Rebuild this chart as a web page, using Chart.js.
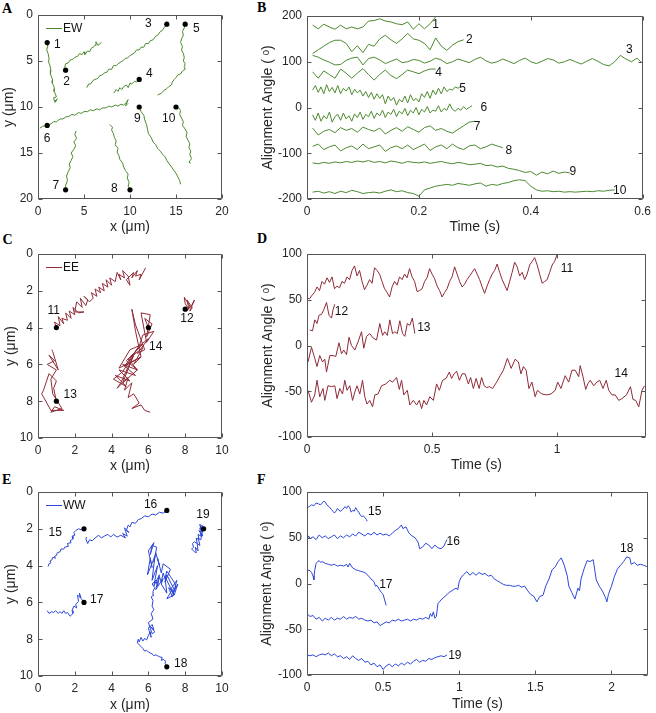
<!DOCTYPE html>
<html><head><meta charset="utf-8">
<script src="https://cdn.jsdelivr.net/npm/chart.js@4.4.0/dist/chart.umd.min.js"></script>
<style>
html,body{margin:0;padding:0;background:#fff;}
body{width:656px;height:713px;position:relative;overflow:hidden;}
canvas{position:absolute;}
.lab{position:absolute;font:bold 14px 'Liberation Serif','Times New Roman',serif;color:#000;line-height:14px;}
</style></head><body>
<div class="lab" style="left:2px;top:1.5px">A</div>
<div class="lab" style="left:257px;top:1px">B</div>
<div class="lab" style="left:2.5px;top:232.5px">C</div>
<div class="lab" style="left:257px;top:231.5px">D</div>
<div class="lab" style="left:2px;top:472.5px">E</div>
<div class="lab" style="left:257px;top:472.5px">F</div>
<canvas id="cA"></canvas><canvas id="cB"></canvas>
<canvas id="cC"></canvas><canvas id="cD"></canvas>
<canvas id="cE"></canvas><canvas id="cF"></canvas>
<script>
// ---------------- Panel A : EW trajectories (x, y in µm) ----------------
const a1x=[1,1.05,0.95,1.1,1.2,1.15,1.3,1.4,1.35,1.5,1.6,1.55,1.7,1.8,1.75,1.9,2.0,1.7,1.8,2.1,1.85,2.0];
const a1y=[3,3.4,3.8,4.2,4.7,5.1,5.5,6,6.4,6.8,7.1,7.4,7.7,8,8.3,8.6,8.9,9.0,9.4,9.1,9.5,9.3];
const a2x=[2.9,3.0,3.3,3.5,3.8,4.0,4.3,4.5,4.8,5.0,5.1,5.4,5.6,5.8,6.0,6.2,6.3,6.5,6.9];
const a2y=[5.7,5.3,5.2,4.9,4.8,4.6,4.5,4.2,4.3,4.0,4.3,3.9,4.0,3.6,3.5,3.3,2.9,3.3,3.0];
const a3x=[14,13.7,13.5,13.3,13.0,12.8,12.5,12.2,12.0,11.7,11.5,11.2,11.0,10.7,10.5,10.2,10.0,9.7,9.5,9.2,9.0,8.7,8.5,8.2,8.0,7.7,7.5,7.2,7.0,6.7,6.5,6.2,6.0,5.7,5.5,5.3];
const a3y=[1,1.4,1.7,1.8,2.2,2.3,2.7,2.8,3.1,3.1,3.5,3.5,3.8,3.8,4.1,4.3,4.4,4.7,4.7,5.0,5.1,5.3,5.5,5.5,5.9,5.9,6.2,6.3,6.5,6.6,6.9,7.0,7.1,7.5,7.5,7.9];
const a4x=[11,10.7,10.5,10.2,10.0,9.8,9.6,9.3,9.1,8.9,8.7,8.5,8.3,8.2];
const a4y=[7.0,7.3,7.2,7.5,7.4,7.9,7.6,7.8,8.1,7.9,8.3,8.1,8.4,8.5];
const a5x=[16,15.9,15.7,15.8,15.6,15.5,15.7,15.6,15.8,15.9,15.8,16.0,15.9,16.0,15.7,15.5,15.2,15.0,14.8,14.6,14.5,14.2,14.0,13.7,13.4,13.0];
const a5y=[1,1.4,1.8,2.2,2.6,3.0,3.4,3.8,4.2,4.6,5.0,5.3,5.6,5.9,6.1,6.4,6.5,6.8,7.0,7.3,7.6,7.8,8.0,8.2,8.5,8.7];
const a6x=[0.2,0.5,1.0,1.3,1.7,2.0,2.4,2.7,3.0,3.4,3.7,4.0,4.4,4.7,5.0,5.4,5.7,6.0,6.4,6.7,7.0,7.4,7.7,8.0,8.4,8.7,9.0,9.3,9.6,9.8,9.5,9.8];
const a6y=[12.3,12.1,12.0,11.9,11.6,11.6,11.3,11.3,11.1,11.0,10.8,10.9,10.6,10.7,10.5,10.5,10.3,10.4,10.2,10.3,10.1,10.1,9.9,10.0,9.8,9.9,9.7,9.8,9.5,9.2,9.9,9.6];
const a7x=[3,3.0,3.2,3.1,3.3,3.5,3.4,3.6,3.8,3.6,3.9,4.1,3.9,4.2,4.0,4.15];
const a7y=[19,18.5,18.0,17.5,17.0,16.6,16.2,15.8,15.4,15.0,14.6,14.2,13.8,13.4,13.0,12.6];
const a8x=[10,9.8,9.9,9.7,9.8,9.5,9.3,9.2,8.9,8.8,8.6,8.7,8.4,8.5,8.3,8.2,8.0,8.1,7.8];
const a8y=[19,18.6,18.2,17.7,17.3,16.9,16.5,16.1,15.7,15.3,14.9,14.5,14.1,13.7,13.3,12.9,12.5,12.2,11.9];
const a9x=[11,11.2,11.5,11.6,11.8,11.9,12.0,12.3,12.5,12.8,13.0,13.3,13.5,13.8,14.0,14.2,14.5,14.7,15.0,15.2,15.4,15.5];
const a9y=[10,10.5,10.9,11.4,11.9,12.4,12.9,13.3,13.8,14.1,14.5,14.8,15.1,15.4,15.8,16.1,16.5,16.8,17.2,17.6,18.0,18.4];
const a10x=[15,15.3,15.5,15.4,15.6,15.8,15.7,16.0,16.2,16.1,16.3,16.5,16.4,16.6,16.5,16.7,16.4,16.6];
const a10y=[10,10.1,10.4,10.8,11.2,11.6,12.0,12.4,12.8,13.2,13.6,14.0,14.4,14.8,15.2,15.6,16.0,16.1];
const aStarts=[[1,3],[3,6],[14,1],[11,7],[16,1],[1,12],[3,19],[10,19],[11,10],[15,10]];
const aTags=[["1",2.1,3.2],["2",3.1,7.3],["3",12.0,0.95],["4",12.1,6.4],["5",17.2,1.5],["6",1.0,13.4],["7",1.95,18.6],["8",8.3,18.9],["9",10.8,11.3],["10",14.2,11.3]];

// ---------------- Panel B : EW alignment angle vs time ----------------
const bStart=0.01;
const bStep=[0.01,0.01,0.01,0.01,0.005,0.005,0.01,0.01,0.01,0.01];
const b1=[180,172,182,176,171,180,172,176,172,176,189,190,194,189,187,183,181,187,171,183,172,183,198];
const b2=[118,126,134,142,147,147,140,122,135,120,138,134,150,158,148,140,150,162,150,147,140,126,152,134,125,136,144,148];
const b3=[114,110,104,99,93,94,103,108,110,93,107,110,104,96,101,106,98,100,105,103,97,101,108,104,96,100,106,102,98,105,110,102,97,100,106,101,96,103,108,100,96,101,107,104,97,100,105,100,95,101,107,101,94,91,100,114,106,100,108,96];
const b4=[78,64,80,72,64,84,75,64,75,85,72,60,72,82,70,63,72,82,78,74,80,84,84];
const b5=[38,48,33,45,30,50,35,44,32,48,30,42,36,45,28,40,32,38,25,35,22,33,18,30,20,28,8,25,15,22,5,18,12,25,10,28,15,20,12,30,22,35,20,38,28,42,30,45,35,40,38,45,42,47];
const b6=[-16,-28,-12,-30,-18,-25,-10,-32,-20,-15,-28,-12,-25,-18,-30,-14,-22,-10,-26,-15,-20,-8,-24,-12,-18,-6,-22,-10,-15,-4,-20,-8,-14,-2,-18,-6,-12,0,-16,-4,-10,2,-12,-6,-8,4,-10,-2,-6,8,-4,-8,-2,-6,2,-4,0,4];
const b7=[-45,-60,-52,-48,-55,-44,-50,-46,-54,-43,-48,-52,-45,-58,-50,-44,-52,-42,-48,-54,-44,-40,-50,-46,-52,-56,-48,-40,-32,-30];
const b8=[-85,-80,-92,-86,-82,-95,-88,-84,-92,-80,-90,-86,-82,-96,-88,-84,-90,-82,-92,-86,-80,-94,-86,-82,-90,-80,-88,-92,-84,-82,-90,-86,-80,-84,-88];
const b9=[-121,-123,-120,-122,-119,-121,-118,-120,-117,-119,-116,-120,-118,-121,-117,-119,-122,-118,-120,-121,-119,-122,-120,-118,-121,-123,-120,-122,-125,-124,-122,-127,-126,-130,-128,-133,-135,-138,-142,-140,-148,-141,-145,-139,-144,-141,-143];
const b10=[-185,-183,-187,-184,-188,-183,-186,-181,-184,-188,-186,-185,-187,-183,-180,-184,-182,-186,-188,-194,-180,-176,-172,-170,-168,-170,-166,-168,-170,-167,-165,-172,-168,-170,-166,-164,-160,-158,-160,-172,-180,-183,-182,-184,-183,-185,-184,-185,-184,-183,-184,-182,-183,-181,-180];
const bTags=[["1",0.23,180],["2",0.29,148],["3",0.576,127],["4",0.235,76],["5",0.278,42],["6",0.316,0],["7",0.304,-42],["8",0.361,-95],["9",0.475,-140],["10",0.559,-181]];

// ---------------- Panel C : EE trajectories ----------------
const c11x=[1,0.9,1.2,1.1,1.4,1.3,1.6,1.5,1.8,1.7,2.0,1.9,2.2,2.5,2.0,2.1,2.4,2.3,2.6,2.7,2.5,2.8,3.0,2.9,3.2,3.1,3.4,3.3,3.6,3.5,3.8,3.7,4.0,3.9,4.2,4.3,4.5,4.4,4.7,4.6,4.9,5.0,4.8,5.2,5.1,5.4,5.3,5.6,5.5,5.85];
const c11y=[4,3.7,3.9,3.4,3.8,3.5,3.6,3.2,3.5,3.1,3.3,2.9,3.2,3.15,3.15,2.6,2.9,2.4,2.8,2.5,2.3,2.6,2.4,2.1,2.3,1.9,2.1,1.8,2.0,1.6,1.8,1.4,1.7,1.3,1.5,1.0,1.4,1.1,1.3,0.9,1.2,1.7,1.4,1.0,1.3,0.9,1.2,1.1,1.4,0.75];
const c12x=[8,8.1,8.3,8.1,8.2,8.0,7.95,8.3,8.5,8.25,8.4];
const c12y=[3,3.1,2.8,2.5,3.0,2.7,2.35,2.9,2.5,3.1,2.9];
const c13x=[1,0.85,1.0,0.6,0.3,0.2,0.7,1.4,0.9,0.7,1.3,0.8,0.7,1.0,0.5,0.9,0.6,1.1,0.8,0.75];
const c13y=[8,7.3,6.9,6.5,7.4,7.6,8.5,8.5,8.3,8.6,8.4,7.6,6.8,6.3,6.0,5.8,5.5,6.3,5.3,5.2];
const c14x=[6,5.8,6.2,5.9,6.1,5.6,5.9,6.3,5.7,5.5,6.0,5.4,5.8,5.3,5.1,5.3,5.6,5.2,5.7,4.9,5.4,4.6,5.3,4.4,5.0,4.2,4.8,4.1,4.6,5.5,4.7,5.6,4.4,5.0,5.7,4.8,5.4,4.6,5.2,4.5,4.3,4.9,4.7,5.1,4.9,5.2,5.5,5.1,5.6,5.8,6.1];
const c14y=[4,3.5,3.8,4.5,3.3,3.2,4.8,4.2,4.4,5.0,4.6,5.4,5.2,3.85,3.0,4.2,5.6,6.0,5.1,5.7,6.3,6.0,6.6,6.3,6.9,6.6,7.2,6.8,6.4,5.0,6.1,5.6,6.2,5.2,4.9,5.8,6.3,7.0,5.5,7.0,7.3,6.7,7.4,7.0,7.8,7.6,8.1,8.4,8.2,8.5,8.6];
const cStarts=[[1,4],[8,3],[1,8],[6,4]];
const cTags=[["11",0.85,3.07],["12",8.1,3.5],["13",1.75,7.65],["14",6.4,5.03]];

// ---------------- Panel D : EE alignment angle vs time ----------------
const d11Step=0.01;
const d11=[52,51,55,58,64,60,70,67,74,69,75,62,65,63,70,68,75,72,82,87,76,82,70,61,66,72,68,85,82,78,70,62,58,53,64,70,66,75,72,78,74,84,75,70,59,60,62,70,74,84,78,73,65,60,53,58,62,70,75,86,78,70,64,67,72,76,80,84,78,72,64,57,65,72,78,82,89,80,72,66,60,70,80,91,86,76,80,72,78,88,92,96,88,78,68,70,72,80,88,92,100];
const d12t=[0.011,0.022,0.031,0.040,0.048,0.058,0.067,0.078,0.088,0.098,0.104,0.111];
const d12v=[17,16,28,24,33,34,39,47,33,30,39,45];
const d13t=[0.004,0.018,0.031,0.040,0.051,0.062,0.071,0.078,0.091,0.104,0.115,0.128,0.138,0.147,0.158,0.168,0.178,0.191,0.204,0.218,0.227,0.238,0.251,0.265,0.278,0.291,0.302,0.311,0.321,0.331,0.342,0.351,0.361,0.371,0.382,0.391,0.401,0.411,0.421,0.431];
const d13v=[-18,-2,-14,-23,-11,-18,-15,-29,-11,-11,-12,3,-9,-5,-10,9,0,-5,4,15,-3,10,13,8,6,24,11,15,11,28,13,15,13,27,13,10,24,22,30,13];
const d14=[[0.004,-49],[0.018,-62],[0.031,-54],[0.040,-38],[0.051,-56],[0.064,-47],[0.071,-60],[0.084,-44],[0.098,-45],[0.111,-44],[0.120,-58],[0.131,-47],[0.142,-53],[0.151,-38],[0.160,-49],[0.171,-44],[0.182,-60],[0.191,-51],[0.200,-44],[0.211,-53],[0.222,-38],[0.231,-56],[0.240,-64],[0.251,-60],[0.262,-67],[0.271,-54],[0.284,-53],[0.298,-44],[0.315,-42],[0.331,-38],[0.342,-40],[0.358,-35],[0.369,-48],[0.378,-38],[0.387,-54],[0.401,-49],[0.411,-65],[0.425,-60],[0.438,-65],[0.449,-60],[0.458,-69],[0.467,-60],[0.478,-65],[0.491,-56],[0.505,-60],[0.518,-42],[0.529,-49],[0.542,-38],[0.556,-36],[0.569,-29],[0.578,-36],[0.588,-31],[0.598,-28],[0.609,-38],[0.620,-31],[0.632,-31],[0.645,-42],[0.654,-35],[0.665,-47],[0.676,-36],[0.688,-47],[0.698,-35],[0.708,-44],[0.718,-46],[0.729,-45],[0.742,-47],[0.758,-40],[0.772,-33],[0.785,-27],[0.801,-14],[0.816,-25],[0.832,-15],[0.845,-18],[0.855,-31],[0.865,-23],[0.876,-27],[0.887,-47],[0.899,-40],[0.912,-56],[0.921,-49],[0.939,-53],[0.959,-54],[0.975,-53],[0.992,-49],[1.002,-40],[1.015,-47],[1.032,-33],[1.046,-40],[1.059,-27],[1.072,-27],[1.086,-34],[1.092,-22],[1.103,-34],[1.114,-48],[1.122,-42],[1.132,-38],[1.146,-44],[1.159,-40],[1.170,-38],[1.183,-47],[1.196,-38],[1.206,-49],[1.219,-54],[1.232,-54],[1.246,-60],[1.259,-58],[1.277,-54],[1.293,-45],[1.303,-59],[1.314,-60],[1.326,-67],[1.339,-49],[1.349,-44]];
const dTags=[["11",1.039,84],["12",0.138,37],["13",0.467,19],["14",1.256,-31]];

// ---------------- Panel E : WW trajectories ----------------
const e15x=[2.5,2.35,2.2,2.05,1.95,2.0,1.85,1.9,1.75,1.8,1.6,1.65,1.45,1.4,1.25,1.2,1.05,1.0,0.9,0.95,0.8,0.75,0.65,0.7,0.6,0.55];
const e15y=[2.0,2.05,2.0,2.1,2.2,2.35,2.4,2.55,2.65,2.75,2.8,2.95,3.0,3.1,3.1,3.25,3.3,3.45,3.5,3.6,3.55,3.7,3.75,3.85,3.9,4.05];
const e16x=[7,6.8,6.6,6.4,6.2,6.0,5.8,5.6,5.45,5.3,5.1,5.0,4.9,4.8,4.95,4.7,4.85,4.6,4.75,4.5,4.3,4.1,3.95,3.8,3.6,3.45,3.3,3.1,2.95,2.8,2.7,2.6,2.65];
const e16y=[1.0,1.15,1.1,1.25,1.2,1.35,1.3,1.45,1.5,1.7,1.65,1.9,1.8,2.1,2.2,1.95,2.4,2.25,2.5,2.35,2.45,2.3,2.45,2.3,2.4,2.5,2.35,2.5,2.65,2.6,2.8,2.55,2.45];
const e17x=[2.5,2.35,2.25,2.3,2.15,2.2,2.05,2.1,1.95,1.85,1.9,1.75,1.6,1.5,1.4,1.3,1.2,1.1,0.95,0.85,0.75,0.6,0.5];
const e17y=[6.0,5.8,5.5,5.75,5.6,5.95,6.1,6.3,6.2,6.45,6.6,6.75,6.55,6.6,6.45,6.6,6.5,6.6,6.45,6.55,6.5,6.6,6.45];
const e18x=[7,6.9,6.95,6.8,6.7,6.75,6.6,6.5,6.4,6.3,6.2,6.1,6.0,5.9,5.8,5.7,5.6,5.5,5.4,5.45,5.5,5.6,5.7,5.8,5.9,6.0,6.1,6.15,6.0,6.2,6.3,6.1,6.35,6.2,6.0,6.25,6.15,6.3,6.2,6.25,6.15,6.3,6.25,6.35,6.2,6.4,6.5,6.6,6.7,6.8,6.9,7.0,7.2,7.4,7.5,7.3,7.6,7.4,7.2,7.55,7.3,7.1,7.45,7.0,6.9,7.2,6.8,6.7,6.5,6.6,6.4,6.3,6.45,6.2,6.1,6.3,6.0,6.2,6.1,5.95,6.35,6.2,6.5,6.3,6.6,6.4,6.8,6.7,7.0,6.9,7.2,7.4,7.0,7.3];
const e18y=[9.5,9.3,9.2,9.1,9.15,9.0,8.95,8.9,8.85,8.9,8.8,8.75,8.7,8.6,8.65,8.5,8.4,8.3,8.2,8.0,8.15,7.9,8.1,7.95,8.05,7.8,7.6,7.9,7.4,7.2,7.5,7.3,7.6,7.7,7.1,6.9,6.6,6.4,6.2,5.9,5.7,5.6,5.4,5.2,5.0,4.8,5.1,4.6,4.9,4.4,4.7,4.3,4.6,4.9,5.2,5.5,5.0,5.6,5.3,4.8,5.7,5.2,5.4,4.5,4.9,4.2,3.9,4.4,3.6,4.0,3.3,3.8,3.0,2.9,3.4,2.75,3.2,4.1,3.6,4.5,3.5,4.8,4.0,5.1,4.5,5.3,4.7,5.0,5.5,4.6,5.2,5.6,5.8,5.3];
const e19x=[9,8.9,8.95,8.8,8.85,8.7,8.75,8.6,8.65,8.5,8.4,8.45,8.35,8.5,8.6,8.55,8.7,8.65,8.8,8.7,8.85,8.9,8.75,8.95,8.8,8.85];
const e19y=[2.0,1.8,2.2,1.95,2.4,2.3,2.6,2.5,2.8,2.7,2.8,3.0,3.1,3.25,3.3,3.0,3.2,2.8,2.9,2.5,2.6,2.3,2.1,2.4,1.75,2.0];
const eStarts=[[2.5,2],[7,1],[2.5,6],[7,9.5],[9,2]];
const eTags=[["15",0.94,2.2],["16",6.12,0.71],["17",3.19,5.86],["18",7.76,9.35],["19",8.97,1.23]];

// ---------------- Panel F : WW alignment angle vs time ----------------
const f15=[[0,83],[0.015,84],[0.03,86],[0.045,85],[0.06,88],[0.075,87],[0.09,86],[0.1,88],[0.11,90],[0.12,89],[0.13,86],[0.145,84],[0.16,81],[0.17,79],[0.18,77],[0.19,79],[0.2,82],[0.21,80],[0.22,79],[0.235,81],[0.25,84],[0.26,82],[0.27,85],[0.28,83],[0.29,78],[0.3,80],[0.31,79],[0.32,83],[0.33,80],[0.34,78],[0.35,75],[0.36,73],[0.37,74],[0.38,72],[0.39,70],[0.395,68]];
const f16=[[0,47],[0.01,52],[0.02,49],[0.04,51],[0.06,48],[0.08,53],[0.1,50],[0.12,52],[0.14,49],[0.16,51],[0.18,53],[0.2,49],[0.22,52],[0.24,50],[0.26,53],[0.28,51],[0.3,54],[0.32,52],[0.34,56],[0.36,54],[0.38,52],[0.4,55],[0.42,53],[0.44,56],[0.46,53],[0.48,55],[0.5,53],[0.52,54],[0.54,52],[0.56,55],[0.58,58],[0.6,60],[0.62,64],[0.63,60],[0.65,62],[0.67,55],[0.69,52],[0.71,50],[0.73,45],[0.74,38],[0.76,40],[0.78,44],[0.8,42],[0.82,38],[0.84,42],[0.86,39],[0.88,38],[0.9,41],[0.91,45],[0.92,48]];
const f17=[[0,15],[0.02,14],[0.03,12],[0.04,8],[0.045,4],[0.05,14],[0.06,22],[0.07,24],[0.08,25],[0.09,23],[0.1,24],[0.12,22],[0.14,21],[0.16,20],[0.18,21],[0.2,19],[0.22,20],[0.24,19],[0.26,21],[0.27,18],[0.28,22],[0.3,17],[0.32,15],[0.34,14],[0.36,13],[0.38,12],[0.4,9],[0.42,5],[0.44,2],[0.45,-3],[0.46,-2],[0.48,-8],[0.49,-10],[0.5,-12],[0.51,-18],[0.52,-24]];
const f18=[[0,-33],[0.02,-36],[0.04,-35],[0.06,-39],[0.08,-37],[0.1,-41],[0.12,-38],[0.14,-40],[0.16,-37],[0.18,-40],[0.2,-38],[0.22,-39],[0.24,-36],[0.26,-39],[0.28,-37],[0.3,-38],[0.32,-36],[0.34,-39],[0.36,-38],[0.38,-40],[0.4,-41],[0.42,-40],[0.44,-43],[0.46,-42],[0.48,-46],[0.5,-44],[0.52,-42],[0.54,-43],[0.56,-40],[0.58,-41],[0.6,-39],[0.62,-41],[0.64,-40],[0.66,-39],[0.68,-41],[0.7,-39],[0.72,-40],[0.74,-38],[0.76,-39],[0.78,-37],[0.8,-39],[0.81,-33],[0.82,-36],[0.83,-31],[0.84,-38],[0.85,-36],[0.86,-22],[0.87,-20],[0.88,-18],[0.9,-15],[0.92,-12],[0.94,-9],[0.96,-7],[0.98,-5],[0.99,-7],[1.0,2],[1.01,6],[1.03,10],[1.05,13],[1.07,9],[1.09,12],[1.11,9],[1.13,12],[1.15,10],[1.17,11],[1.19,8],[1.21,9],[1.23,5],[1.25,3],[1.27,1],[1.29,-1],[1.31,-2],[1.33,-2],[1.35,-3],[1.37,-3],[1.39,-2],[1.41,-4],[1.43,-3],[1.45,-8],[1.47,-12],[1.49,-14],[1.51,-20],[1.53,-14],[1.55,-13],[1.57,-2],[1.59,5],[1.61,15],[1.63,18],[1.65,24],[1.67,28],[1.69,20],[1.71,8],[1.72,-3],[1.74,-10],[1.76,-17],[1.78,-5],[1.79,-8],[1.8,5],[1.82,16],[1.84,25],[1.86,24],[1.88,26],[1.89,15],[1.9,4],[1.92,-3],[1.94,-8],[1.96,-15],[1.97,-20],[1.98,-12],[2.0,-3],[2.02,8],[2.04,16],[2.06,20],[2.08,24],[2.1,29],[2.12,28],[2.13,21],[2.15,23],[2.17,20],[2.19,21],[2.21,20],[2.24,18]];
const f19=[[0,-78],[0.02,-79],[0.04,-78],[0.06,-80],[0.08,-78],[0.1,-77],[0.12,-78],[0.14,-76],[0.16,-79],[0.18,-77],[0.2,-80],[0.22,-79],[0.24,-82],[0.26,-80],[0.28,-83],[0.3,-79],[0.32,-82],[0.34,-84],[0.36,-82],[0.38,-86],[0.4,-85],[0.42,-89],[0.44,-87],[0.46,-91],[0.48,-89],[0.5,-94],[0.52,-90],[0.54,-88],[0.56,-91],[0.58,-88],[0.6,-90],[0.62,-87],[0.64,-89],[0.66,-86],[0.68,-88],[0.7,-85],[0.72,-83],[0.74,-86],[0.76,-84],[0.78,-85],[0.8,-82],[0.82,-83],[0.84,-81],[0.86,-80],[0.88,-79],[0.9,-80],[0.92,-78]];
const fTags=[["15",0.445,79],["16",0.96,46],["17",0.518,-1.5],["18",2.1,38],["19",0.971,-79]];

// ---------------- helpers ----------------
const FONT="'Liberation Sans', Arial, 'DejaVu Sans', sans-serif";
Chart.defaults.font.family=FONT;
Chart.defaults.color='#262626';
const GREEN='#4b8a2e', RED='#8e2a36', BLUE='#2b46d9';
const zip=(xs,ys)=>xs.slice(0,Math.min(xs.length,ys.length)).map((x,i)=>({x,y:ys[i]}));
const pairs=arr=>arr.map(([x,y])=>({x,y}));
const seq=(vals,t0,dt)=>vals.map((v,i)=>({x:+(t0+i*dt).toFixed(4),y:v}));
const lineDs=(data,color)=>({data,showLine:true,borderColor:color,borderWidth:1,pointRadius:0,fill:false,tension:0});
const dotDs=pts=>({data:pairs(pts),showLine:false,pointRadius:2.6,pointBackgroundColor:'#000',pointBorderWidth:0});
const fmt=v=>String(Math.round(v*1000)/1000);

const frame={id:'frame',afterDatasetsDraw(chart){
  const {ctx,chartArea:a,scales:{x,y}}=chart;
  const L=Math.round(a.left)+0.5,R=Math.round(a.right)-0.5,T=Math.round(a.top)+0.5,B=Math.round(a.bottom)-0.5;
  ctx.save();ctx.strokeStyle='#555';ctx.lineWidth=1;ctx.beginPath();ctx.rect(L,T,R-L,B-T);
  x.ticks.forEach(t=>{const p=Math.round(x.getPixelForValue(t.value))+0.5;ctx.moveTo(p,B);ctx.lineTo(p,B-4);ctx.moveTo(p,T);ctx.lineTo(p,T+4);});
  y.ticks.forEach(t=>{const p=Math.round(y.getPixelForValue(t.value))+0.5;ctx.moveTo(L,p);ctx.lineTo(L+4,p);ctx.moveTo(R,p);ctx.lineTo(R-4,p);});
  ctx.stroke();ctx.restore();
}};
const tags={id:'tags',afterDatasetsDraw(chart,args,opts){
  const {ctx,scales:{x,y}}=chart;ctx.save();ctx.font='12px '+FONT;ctx.fillStyle='#111';ctx.textAlign='center';ctx.textBaseline='middle';
  (opts.items||[]).forEach(([s,vx,vy])=>ctx.fillText(s,x.getPixelForValue(vx),y.getPixelForValue(vy)));ctx.restore();
}};
const miniLegend={id:'miniLegend',afterDatasetsDraw(chart,args,opts){
  if(!opts.text)return;const {ctx,chartArea:a}=chart;const yy=Math.round(a.top+13)+0.5;
  ctx.save();ctx.strokeStyle=opts.color;ctx.lineWidth=1;ctx.beginPath();ctx.moveTo(a.left+8,yy);ctx.lineTo(a.left+24,yy);ctx.stroke();
  ctx.font='12px '+FONT;ctx.fillStyle='#111';ctx.textBaseline='middle';ctx.textAlign='left';ctx.fillText(opts.text,a.left+25,yy);ctx.restore();
}};

const TS=14;
function makePanel(p){
  const cv=document.getElementById(p.id),g=p.canvas,a=p.area;
  cv.style.left=g.left+'px';cv.style.top=g.top+'px';cv.width=g.w;cv.height=g.h;cv.style.width=g.w+'px';cv.style.height=g.h+'px';
  const yW=a.l-g.left,xH=g.top+g.h-a.b;
  const tf={size:TS,lineHeight:1};
  new Chart(cv,{type:'scatter',data:{datasets:p.datasets},
    options:{responsive:false,animation:false,devicePixelRatio:1,
      layout:{padding:{left:0,top:a.t-g.top,right:g.left+g.w-a.r,bottom:0}},
      plugins:{legend:{display:false},tooltip:{enabled:false},tags:{items:p.tags},miniLegend:{text:p.legend,color:p.color}},
      scales:{
        x:{type:'linear',min:p.x[0],max:p.x[1],
          ticks:{stepSize:p.x[2],includeBounds:false,padding:5,font:{size:12},maxRotation:0,autoSkip:false,callback:fmt},
          grid:{display:false,drawTicks:false},border:{display:false},
          title:{display:true,text:p.xText,font:tf,padding:{top:0,bottom:g.top+g.h-p.xTitle-TS/2}},
          afterFit:s=>{s.height=xH;}},
        y:{type:'linear',min:p.y[0],max:p.y[1],reverse:!!p.y[3],
          ticks:{stepSize:p.y[2],includeBounds:false,padding:5,font:{size:12},autoSkip:false,callback:fmt},
          grid:{display:false,drawTicks:false},border:{display:false},
          title:{display:true,text:p.yText,font:tf,padding:{top:p.yTitle-g.left-TS/2,bottom:0}},
          afterFit:s=>{s.width=yW;}}
      }},
    plugins:[frame,tags,miniLegend]});
}
const ANG='Alignment Angle ( ᵒ)';

makePanel({id:'cA',canvas:{left:0,top:0,w:250,h:240},area:{l:38,t:15,r:222,b:199},xTitle:227,yTitle:9,
  x:[0,20,5],y:[0,20,5,true],xText:'x (μm)',yText:'y (μm)',legend:'EW',color:GREEN,tags:aTags,
  datasets:[dotDs(aStarts),
    {label:'EW',...lineDs(zip(a1x,a1y),GREEN)},lineDs(zip(a2x,a2y),GREEN),lineDs(zip(a3x,a3y),GREEN),lineDs(zip(a4x,a4y),GREEN),
    lineDs(zip(a5x,a5y),GREEN),lineDs(zip(a6x,a6y),GREEN),lineDs(zip(a7x,a7y),GREEN),lineDs(zip(a8x,a8y),GREEN),
    lineDs(zip(a9x,a9y),GREEN),lineDs(zip(a10x,a10y),GREEN)]});

const bAll=[b1,b2,b3,b4,b5,b6,b7,b8,b9,b10];
makePanel({id:'cB',canvas:{left:250,top:0,w:406,h:240},area:{l:307,t:16,r:647,b:199},xTitle:227,yTitle:268,
  x:[0,0.6,0.2],y:[-200,200,100],xText:'Time (s)',yText:ANG,tags:bTags,
  datasets:bAll.map((s,i)=>lineDs(seq(s,bStart,bStep[i]),GREEN))});

makePanel({id:'cC',canvas:{left:0,top:230,w:250,h:250},area:{l:38,t:254,r:222,b:438},xTitle:466,yTitle:11.5,
  x:[0,10,2],y:[0,10,2,true],xText:'x (μm)',yText:'y (μm)',legend:'EE',color:RED,tags:cTags,
  datasets:[dotDs(cStarts),lineDs(zip(c11x,c11y),RED),lineDs(zip(c12x,c12y),RED),lineDs(zip(c13x,c13y),RED),lineDs(zip(c14x,c14y),RED)]});

makePanel({id:'cD',canvas:{left:250,top:230,w:406,h:250},area:{l:307,t:254,r:646,b:437},xTitle:465,yTitle:268,
  x:[0,1.355,0.5],y:[-100,100,50],xText:'Time (s)',yText:ANG,tags:dTags,
  datasets:[lineDs(seq(d11,0,d11Step),RED),lineDs(zip(d12t,d12v),RED),lineDs(zip(d13t,d13v),RED),lineDs(pairs(d14),RED)]});

makePanel({id:'cE',canvas:{left:0,top:470,w:250,h:243},area:{l:38,t:492,r:222,b:676},xTitle:705,yTitle:11.5,
  x:[0,10,2],y:[0,10,2,true],xText:'x (μm)',yText:'y (μm)',legend:'WW',color:BLUE,tags:eTags,
  datasets:[dotDs(eStarts),lineDs(zip(e15x,e15y),BLUE),lineDs(zip(e16x,e16y),BLUE),lineDs(zip(e17x,e17y),BLUE),lineDs(zip(e18x,e18y),BLUE),lineDs(zip(e19x,e19y),BLUE)]});

makePanel({id:'cF',canvas:{left:250,top:470,w:406,h:243},area:{l:307,t:492,r:648,b:675},xTitle:704.5,yTitle:267.5,
  x:[0,2.24,0.5],y:[-100,100,50],xText:'Time (s)',yText:ANG,tags:fTags,
  datasets:[lineDs(pairs(f15),BLUE),lineDs(pairs(f16),BLUE),lineDs(pairs(f17),BLUE),lineDs(pairs(f18),BLUE),lineDs(pairs(f19),BLUE)]});
</script>
</body></html>
